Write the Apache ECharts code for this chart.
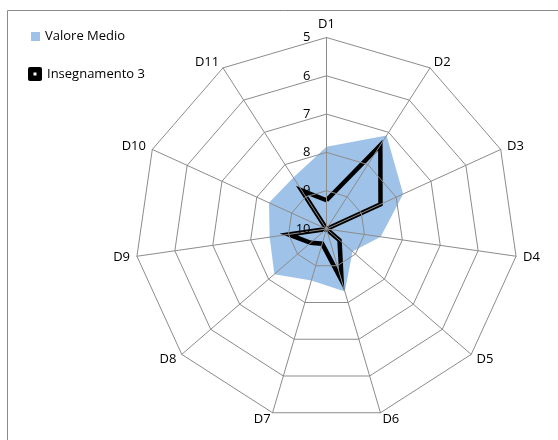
<!DOCTYPE html>
<html>
<head>
<meta charset="utf-8">
<script src="https://cdn.jsdelivr.net/npm/echarts@6/dist/echarts.min.js"></script>
<style>html,body{margin:0;padding:0;background:#fff}#c{width:558px;height:440px}</style>
</head>
<body>
<div id="c"></div>
<script>
// Data (scale is inverted: 10 at the centre, 5 on the outer ring)
const categories = ['D1','D2','D3','D4','D5','D6','D7','D8','D9','D10','D11'];
const valoreMedio = [7.85, 7.1, 7.8, 8.57, 9.1, 8.3, 8.6, 8.2, 8.5, 8.35, 8.4];
const insegnamento3 = [9.25, 7.4, 8.45, 10, 9.55, 8.6, 9.6, 9.45, 9.0, 10, 8.8];
const axisMin = 5, axisMax = 10;
const tickLabels = ['5','6','7','8','9','10'];

const FONT = 'Open Sans';
// ECharts lays radar indicators out counter-clockwise; the reference runs
// clockwise, so keep D1 first and reverse the rest.
const order = [0].concat(categories.map((_, i) => i).slice(1).reverse());
// inverted axis: plot negatives so that 10 sits at the centre
const inv = v => -v;
const indicators = order.map((k, i) => {
  const o = { name: categories[k], min: -axisMax, max: -axisMin };
  if (i === 0) o.axisLabel = { show: true };
  return o;
});
const pick = arr => order.map(k => inv(arr[k]));

const chart = echarts.init(document.getElementById('c'), null, { renderer: 'canvas' });
chart.setOption({
  animation: false,
  backgroundColor: '#fff',
  textStyle: { fontFamily: FONT },
  graphic: [{
    type: 'rect', silent: true, z: 0,
    shape: { x: 7.5, y: 10.5, width: 600, height: 500 },
    style: { fill: 'none', stroke: '#8a8a8a', lineWidth: 1 }
  }],
  legend: [{
    data: ['Valore Medio'], orient: 'vertical', left: 26, top: 25,
    itemWidth: 9, itemHeight: 9, icon: 'rect',
    textStyle: { fontFamily: FONT, fontSize: 13, color: '#000' }
  }, {
    data: [{ name: 'Insegnamento 3', icon: 'path://M2,0 L12,0 Q14,0 14,2 L14,12 Q14,14 12,14 L2,14 Q0,14 0,12 L0,2 Q0,0 2,0 Z M5.5,5.5 L5.5,8.5 L8.5,8.5 L8.5,5.5 Z' }],
    orient: 'vertical', left: 23, top: 62,
    itemWidth: 14, itemHeight: 14,
    textStyle: { fontFamily: FONT, fontSize: 13, color: '#000' }
  }],
  radar: {
    z: 5,
    center: [326.5, 229],
    radius: 191.5,
    startAngle: 90,
    splitNumber: 5,
    shape: 'polygon',
    indicator: indicators,
    nameGap: 7,
    axisName: { color: '#000', fontFamily: FONT, fontSize: 13 },
    axisLine: { show: true, lineStyle: { color: '#8c8c8c', width: 1 } },
    splitLine: { show: true, lineStyle: { color: '#8c8c8c', width: 1 } },
    splitArea: { show: false },
    axisTick: { show: false },
    axisLabel: {
      show: false, color: '#000', fontFamily: FONT, fontSize: 13, margin: 16,
      formatter: v => tickLabels[Math.round(-v) - axisMin]
    }
  },
  series: [{
    type: 'radar', z: 2,
    symbol: 'none',
    data: [{
      name: 'Valore Medio',
      value: pick(valoreMedio),
      lineStyle: { width: 0, color: '#9fc2e8' },
      itemStyle: { color: '#9fc2e8' },
      areaStyle: { color: '#9fc2e8', opacity: 1 }
    }, {
      name: 'Insegnamento 3',
      value: pick(insegnamento3),
      lineStyle: { width: 4.5, color: '#000', join: 'miter' },
      itemStyle: { color: '#000' }
    }]
  }]
});
</script>
</body>
</html>
